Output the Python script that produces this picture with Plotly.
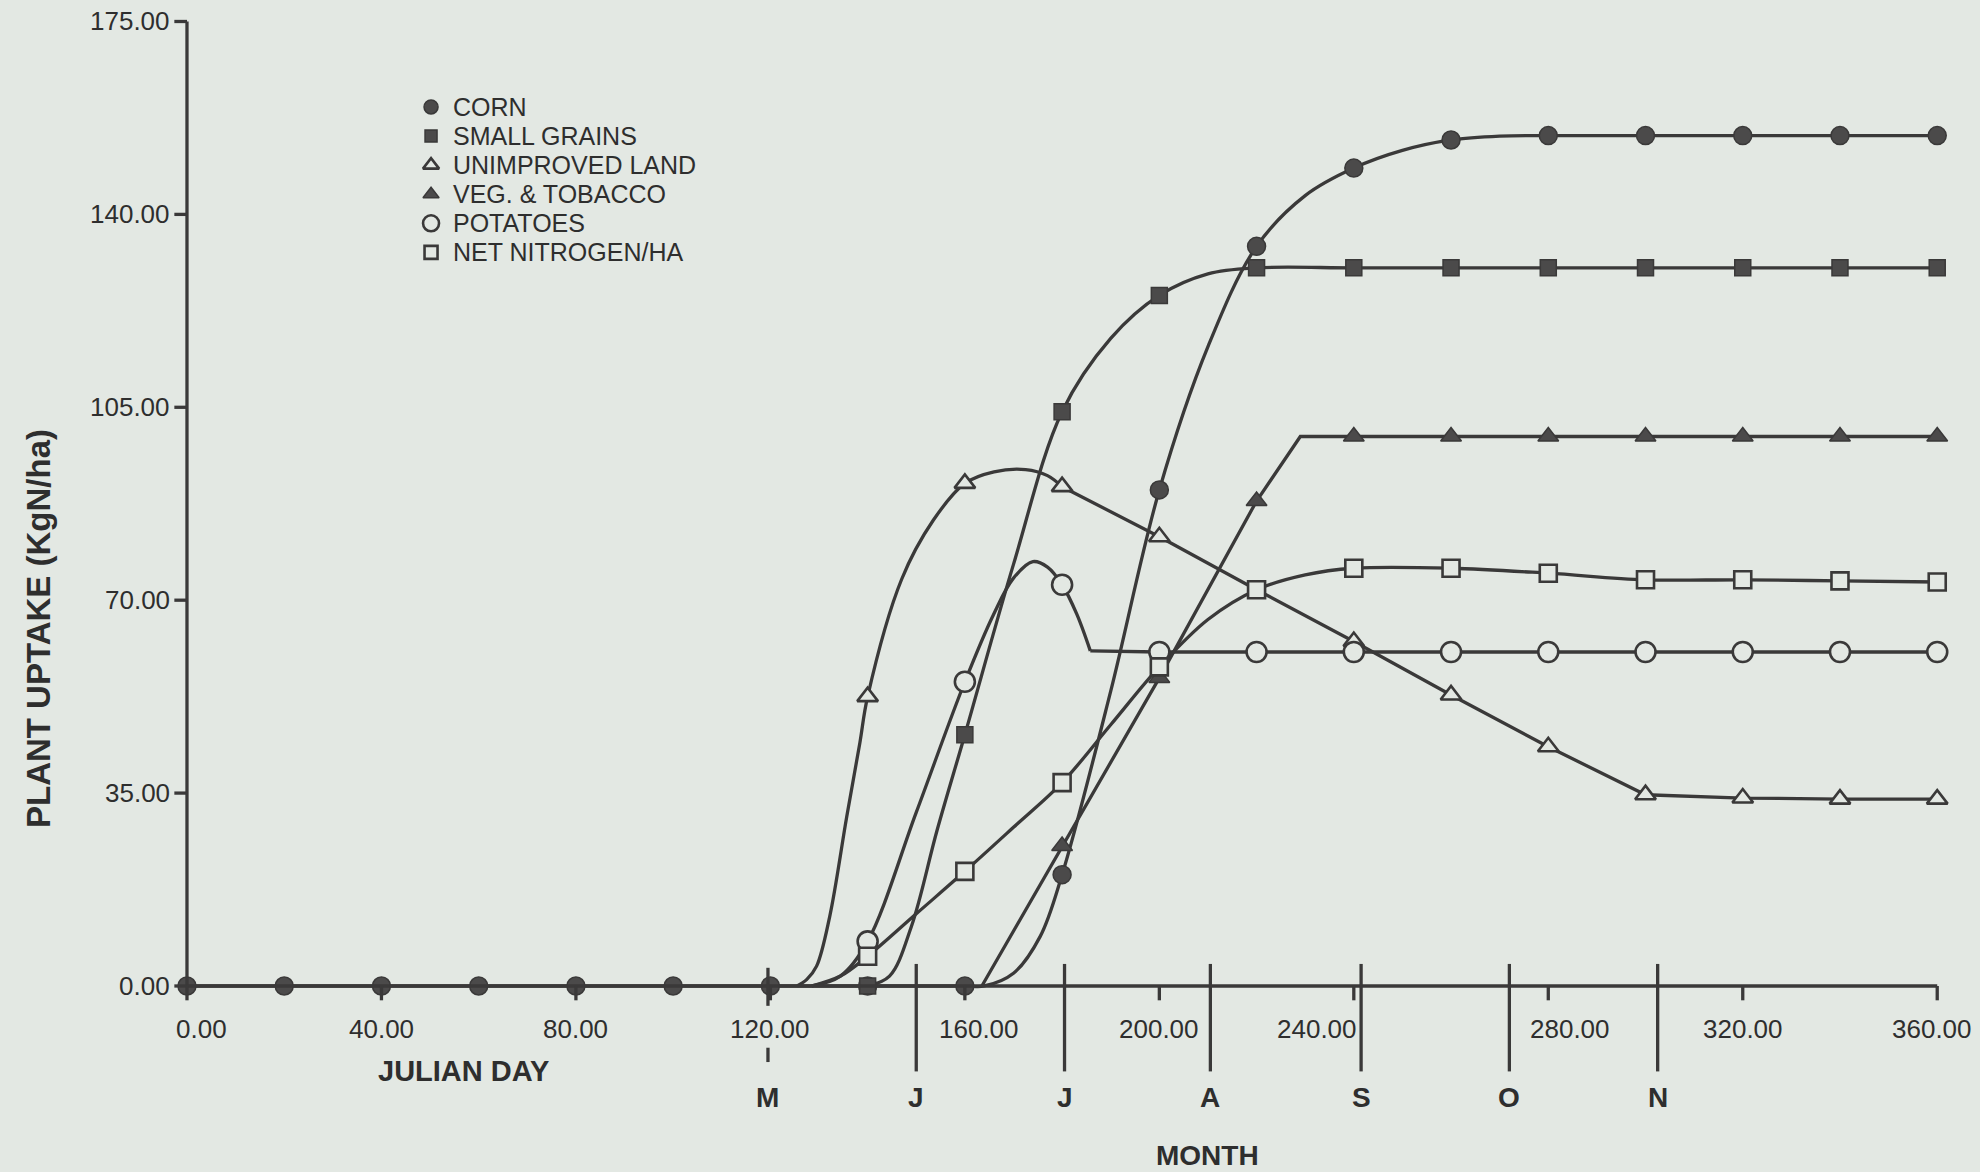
import plotly.graph_objects as go

# ---------------------------------------------------------------------------
# Plant nitrogen uptake (kg N/ha) by Julian day for each land use
# ---------------------------------------------------------------------------

# marker points (every 20 days)
CORN_DAYS = list(range(0, 361, 20))
CORN_UPTAKE = [0, 0, 0, 0, 0, 0, 0, 0, 0, 20.2, 90.0, 134.2, 148.4, 153.5,
               154.3, 154.3, 154.3, 154.3, 154.3]

GRAIN_DAYS = list(range(140, 361, 20))
GRAIN_UPTAKE = [0, 45.6, 104.2, 125.3, 130.3, 130.3, 130.3, 130.3, 130.3,
                130.3, 130.3, 130.3]

UNIMP_DAYS = [140, 160, 180, 200, 240, 260, 280, 300, 320, 340, 360]
UNIMP_UPTAKE = [52.5, 91.2, 90.6, 81.5, 62.5, 52.8, 43.4, 34.7, 34.1, 33.9, 33.9]

VEG_DAYS = list(range(180, 361, 20))
VEG_UPTAKE = [25.4, 55.9, 88.0, 99.7, 99.7, 99.7, 99.7, 99.7, 99.7, 99.7]

POTATO_DAYS = list(range(140, 361, 20))
POTATO_UPTAKE = [8.1, 55.2, 72.8, 60.6, 60.6, 60.6, 60.6, 60.6, 60.6, 60.6,
                 60.6, 60.6]

NETN_DAYS = list(range(140, 361, 20))
NETN_UPTAKE = [5.4, 20.8, 36.9, 57.9, 71.9, 75.8, 75.8, 74.9, 73.7, 73.7,
               73.5, 73.3]

# intermediate points along each curve between the markers
CORN_PATH_DAYS = [164, 170, 175.5, 190, 210, 230, 250, 270]
CORN_PATH_UPTAKE = [0, 2.3, 9.0, 53.5, 116.0, 143.4, 151.6, 154.2]

GRAIN_PATH_DAYS = [144.5, 149, 154.3, 170, 190, 210]
GRAIN_PATH_UPTAKE = [1.8, 10.8, 28.3, 76.5, 117.5, 129.2]

UNIMP_PATH_DAYS = [125.5, 127.5, 129.5, 132.2, 135.7, 138.4, 147, 153.5, 166,
                   172.5, 177, 220]
UNIMP_PATH_UPTAKE = [0, 1.2, 3.6, 12.6, 30.7, 44.1, 73.8, 84.5, 93.3, 93.7,
                     92.6, 71.9]

VEG_PATH_DAYS = [163.5, 229]
VEG_PATH_UPTAKE = [0, 99.7]

POTATO_PATH_DAYS = [128.5, 134.4, 150, 166, 170, 174, 177, 183, 185.8]
POTATO_PATH_UPTAKE = [0, 1.8, 31.5, 67.6, 74.0, 77.0, 76.0, 67.5, 60.8]

NETN_PATH_DAYS = [128.5, 134.4, 150, 170, 190, 210, 230]
NETN_PATH_UPTAKE = [0, 1.8, 13.1, 28.8, 47.4, 66.5, 74.6]

LEGEND_LABELS = ["CORN", "SMALL GRAINS", "UNIMPROVED LAND", "VEG. & TOBACCO",
                 "POTATOES", "NET NITROGEN/HA"]

# axes
Y_TICKS = [0, 35, 70, 105, 140, 175]
X_TICKS = [0, 40, 80, 120, 160, 200, 240, 280, 320, 360]
MONTH_DAYS = [119.5, 150, 180.5, 210.5, 241.5, 272, 302.5]
MONTH_LETTERS = ["M", "J", "J", "A", "S", "O", "N"]

# ---------------------------------------------------------------------------
# styling
# ---------------------------------------------------------------------------
PAPER = "#e3e8e3"
INK = "#3a3939"
FILL = "#4b4a4a"
TEXT = "#2e2e2e"
LW = 3.3

SANS = "Liberation Sans, Arial, sans-serif"
TICK_SIZE = 26

X_LABEL_NUDGE = {0: 3, 160: 3, 240: -7.5, 280: 4.5, 360: -1}

STYLES = {
    "CORN": dict(symbol="circle", size=18, color=FILL, line=dict(color=INK, width=1.5)),
    "SMALL GRAINS": dict(symbol="square", size=16, color=FILL, line=dict(color=INK, width=1.5)),
    "UNIMPROVED LAND": dict(symbol="triangle-up", size=18, color=PAPER, line=dict(color=INK, width=2.6)),
    "VEG. & TOBACCO": dict(symbol="triangle-up", size=18, color=FILL, line=dict(color=INK, width=1.5)),
    "POTATOES": dict(symbol="circle", size=20, color=PAPER, line=dict(color=INK, width=2.6)),
    "NET NITROGEN/HA": dict(symbol="square", size=17, color=PAPER, line=dict(color=INK, width=2.6)),
}


def merge(days, vals, pdays, pvals):
    pts = sorted(zip(list(days) + list(pdays), list(vals) + list(pvals)))
    return [p[0] for p in pts], [p[1] for p in pts]


fig = go.Figure()


def add_line(x, y, shape):
    fig.add_trace(go.Scatter(
        x=x, y=y, mode="lines", hoverinfo="skip", showlegend=False,
        line=dict(color=INK, width=LW, shape=shape, smoothing=1.0)))


# curves
cx, cy = merge(CORN_DAYS, CORN_UPTAKE, CORN_PATH_DAYS, CORN_PATH_UPTAKE)
add_line(cx, cy, "spline")
gx, gy = merge(GRAIN_DAYS, GRAIN_UPTAKE, GRAIN_PATH_DAYS, GRAIN_PATH_UPTAKE)
add_line(gx, gy, "spline")
ux, uy = merge(UNIMP_DAYS, UNIMP_UPTAKE, UNIMP_PATH_DAYS, UNIMP_PATH_UPTAKE)
add_line([d for d in ux if d <= 180], [v for d, v in zip(ux, uy) if d <= 180], "spline")
add_line([d for d in ux if d >= 180], [v for d, v in zip(ux, uy) if d >= 180], "linear")
vx, vy = merge(VEG_DAYS, VEG_UPTAKE, VEG_PATH_DAYS, VEG_PATH_UPTAKE)
add_line(vx, vy, "linear")
# potato curve: smooth rise and fall, then a sharp corner into the plateau
px, py = merge(POTATO_DAYS, POTATO_UPTAKE, POTATO_PATH_DAYS, POTATO_PATH_UPTAKE)
add_line([d for d in px if d <= 185.8], [v for d, v in zip(px, py) if d <= 185.8], "spline")
add_line([d for d in px if d >= 185.8], [v for d, v in zip(px, py) if d >= 185.8], "linear")
nx, ny = merge(NETN_DAYS, NETN_UPTAKE, NETN_PATH_DAYS, NETN_PATH_UPTAKE)
add_line(nx, ny, "spline")

# markers
for name, days, vals in [
    ("CORN", CORN_DAYS, CORN_UPTAKE),
    ("SMALL GRAINS", GRAIN_DAYS, GRAIN_UPTAKE),
    ("UNIMPROVED LAND", UNIMP_DAYS, UNIMP_UPTAKE),
    ("VEG. & TOBACCO", VEG_DAYS, VEG_UPTAKE),
    ("POTATOES", POTATO_DAYS, POTATO_UPTAKE),
    ("NET NITROGEN/HA", NETN_DAYS, NETN_UPTAKE),
]:
    fig.add_trace(go.Scatter(x=days, y=vals, mode="markers", name=name,
                             showlegend=False, marker=STYLES[name]))

# key (drawn inside the plot, top left)
KEY_DAY, KEY_TEXT_DAY, KEY_TOP, KEY_STEP = 50.2, 54.3, 159.5, 5.28
for i, name in enumerate(LEGEND_LABELS):
    st = dict(STYLES[name])
    st["size"] = st["size"] - 4
    fig.add_trace(go.Scatter(x=[KEY_DAY], y=[KEY_TOP - i * KEY_STEP], mode="markers",
                             showlegend=False, hoverinfo="skip", marker=st))
    fig.add_annotation(x=KEY_TEXT_DAY, y=KEY_TOP - i * KEY_STEP, text=name,
                       xanchor="left", yanchor="middle", showarrow=False,
                       font=dict(family=SANS, size=25, color=TEXT))

shapes = []
line_style = dict(color=INK, width=LW)
# y axis
shapes.append(dict(type="line", x0=0, x1=0, y0=0, y1=Y_TICKS[-1], line=line_style))
for t in Y_TICKS:
    shapes.append(dict(type="line", x0=-2.6, x1=0, y0=t, y1=t, line=line_style))
    fig.add_annotation(x=-3.0, y=t, text=f"{t:.2f}", xanchor="right", yanchor="middle",
                       showarrow=False, font=dict(family=SANS, size=TICK_SIZE, color=TEXT))
# x axis
shapes.append(dict(type="line", x0=0, x1=X_TICKS[-1], y0=0, y1=0, line=line_style))
for t in X_TICKS:
    shapes.append(dict(type="line", x0=t, x1=t, y0=0, y1=-2.6, line=line_style))
    fig.add_annotation(x=t + X_LABEL_NUDGE.get(t, 0), y=-7.8, text=f"{t:.2f}",
                       xanchor="center", yanchor="middle", showarrow=False,
                       font=dict(family=SANS, size=TICK_SIZE, color=TEXT))
# month boundaries
for i, (d, m) in enumerate(zip(MONTH_DAYS, MONTH_LETTERS)):
    if i == 0:
        shapes.append(dict(type="line", x0=d, x1=d, y0=3.3, y1=-3.6, line=line_style))
        shapes.append(dict(type="line", x0=d, x1=d, y0=-11.2, y1=-13.8, line=line_style))
    else:
        shapes.append(dict(type="line", x0=d, x1=d, y0=4.0, y1=-15.5, line=line_style))
    fig.add_annotation(x=d, y=-20.2, text=f"<b>{m}</b>", xanchor="center", yanchor="middle",
                       showarrow=False, font=dict(family=SANS, size=28, color=TEXT))

fig.add_annotation(x=56.8, y=-15.4, text="<b>JULIAN DAY</b>", showarrow=False,
                   xanchor="center", yanchor="middle",
                   font=dict(family=SANS, size=29, color=TEXT))
fig.add_annotation(x=210, y=-30.7, text="<b>MONTH</b>", showarrow=False,
                   xanchor="center", yanchor="middle",
                   font=dict(family=SANS, size=28, color=TEXT))
fig.add_annotation(x=-30.4, y=64.8, text="<b>PLANT UPTAKE (KgN/ha)</b>", showarrow=False,
                   textangle=-90, xanchor="center", yanchor="middle",
                   font=dict(family=SANS, size=33, color=TEXT))

fig.update_layout(
    width=1980, height=1172,
    margin=dict(l=0, r=0, t=0, b=0),
    paper_bgcolor=PAPER, plot_bgcolor=PAPER,
    showlegend=False, shapes=shapes,
    xaxis=dict(visible=False, range=[-38.46, 368.8], fixedrange=True),
    yaxis=dict(visible=False, range=[-33.75, 178.9], fixedrange=True),
)

fig.write_html("out.html")
